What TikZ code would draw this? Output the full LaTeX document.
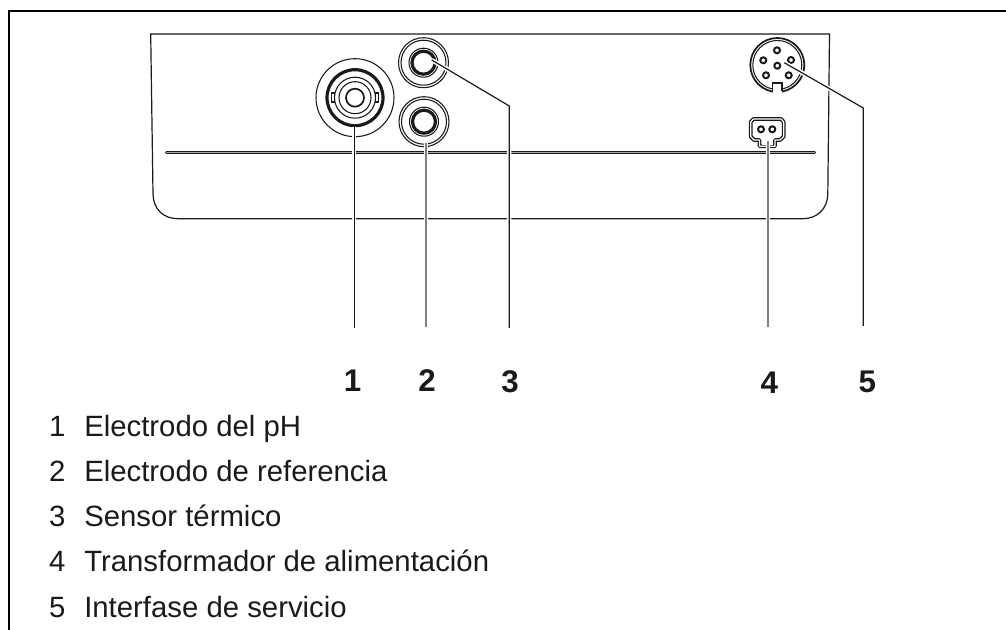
\documentclass[tikz,border=0pt]{standalone}
\usepackage{fontspec}
\setmainfont{Liberation Sans}
\definecolor{ink}{HTML}{1A1A1A}
\definecolor{slotgrey}{HTML}{A8A8A8}
\definecolor{leadgrey}{HTML}{808080}
\tikzset{
  px/.style={x=0.75pt,y=-0.75pt},
  frameline/.style={black,line width=2.2pt},
  body/.style={ink,line width=0.9pt},
  thin ring/.style={ink,line width=0.8pt},
  mid ring/.style={ink,line width=1.3pt},
  thick ring/.style={ink,line width=2.4pt},
  halo/.style={white,line width=3.2pt},
  leader/.style={ink,line width=0.9pt},
  greyleader/.style={leadgrey,line width=1.2pt},
  pin/.style={ink,line width=1.5pt,fill=white},
  callout/.style={font=\fontsize{23.5}{26}\selectfont\bfseries,text=ink,anchor=center,inner sep=0pt},
  itemnum/.style={font=\fontsize{22}{26}\selectfont,text=ink,anchor=base,inner sep=0pt},
  itemtext/.style={font=\fontsize{22}{26}\selectfont,text=ink,anchor=base west,inner sep=0pt},
}
\begin{document}
\begin{tikzpicture}[px]
\useasboundingbox (0,0) rectangle (1006,630);
% page frame
\draw[frameline] (9,630) -- (9,11) -- (1006,11);
% housing
\draw[body] (829.5,34) -- (150.7,34) -- (153,194) .. controls (153.3,209) and (163,218.7) .. (178,218.7) -- (803,218.7) .. controls (817,218.7) and (827.5,209) .. (827.8,194) -- cycle;
% slot
\draw[ink,line width=2.4pt,line cap=round] (166.5,152.3) -- (814.5,152.3);
\draw[slotgrey,line width=1pt,line cap=round] (166.5,152.3) -- (814.5,152.3);
% BNC socket
\draw[thin ring] (355,97.7) circle (39);
\draw[thick ring] (355,97.7) circle (28);
\draw[thin ring] (355,97.7) circle (20.5);
\draw[thin ring] (355,97.7) circle (16);
\draw[mid ring] (355,97.7) circle (9);
\draw[thin ring,fill=white] (331.5,93) rectangle (334.5,102);
\draw[thin ring,fill=white] (375.5,93) rectangle (378.5,102);
% reference socket
\draw[thin ring] (424,121.7) circle (25);
\draw[thin ring] (424,121.7) circle (22.5);
\draw[thin ring] (424,121.7) circle (14.5);
\draw[thick ring] (424,121.7) circle (11.5);
% temperature socket
\draw[thin ring] (423.5,62.7) circle (25);
\draw[thin ring] (423.5,62.7) circle (22.5);
\draw[thin ring] (423.5,62.7) circle (14.5);
\draw[thick ring] (423.5,62.7) circle (11.5);
% service socket
\draw[mid ring] (777.3,65) circle (27);
\draw[thin ring] (777.3,65) circle (24.5);
\fill[white] (773,80) rectangle (782,94);
\draw[mid ring] (772.5,91.5) -- (772.5,82.7) -- (782.3,82.7) -- (782.3,91.5);
\foreach \n/\px/\py in {a/777/50.3,b/763.3/60.3,c/791/60,d/777.3/65.7,e/766/75.3,f/788.7/75.3}{
  \draw[pin] (\px,\py) circle (3);
}
% power socket
\draw[ink,line width=1pt,double=white,double distance=0.9pt,line join=round]
  (753.5,119) -- (781,119) -- (783.7,122) -- (783.7,136.5) -- (780,140) -- (775,140) -- (775,146.2) -- (759.5,146.2) -- (759.5,140) -- (754,140) -- (750.7,136.5) -- (750.7,122) -- cycle;
\fill[white] (762,142) rectangle (772.5,144.8);
\draw[pin] (761,129.3) circle (3);
\draw[pin] (772.3,129.3) circle (3);
% leader ends
\coordinate (p1) at (354.3,127);
\coordinate (e1) at (354.3,328);
\coordinate (p2) at (426,143);
\coordinate (e2) at (426,327);
\coordinate (p3) at (431.7,60);
\coordinate (k3) at (509.3,106);
\coordinate (e3) at (509.3,328);
\coordinate (p4) at (768,141);
\coordinate (e4) at (768,327);
\coordinate (p5) at (784.3,62.7);
\coordinate (k5) at (863.3,108);
\coordinate (e5) at (863.3,326);
% leaders with a white halo where they cross the drawing
\draw[halo] (p1) -- (e1);
\draw[halo] (p2) -- (e2);
\draw[halo] (p3) -- (k3) -- (e3);
\draw[halo] (p4) -- (e4);
\draw[halo] (p5) -- (k5) -- (e5);
\draw[leader] (p1) -- (e1);
\draw[greyleader] (p2) -- (e2);
\draw[leader,line join=miter] (p3) -- (k3) -- (e3);
\draw[greyleader] (p4) -- (e4);
\draw[leader,line join=miter] (p5) -- (k5) -- (e5);
% callouts
\node[callout] (c1) at (352.7,381) {1};
\node[callout] (c2) at (427,381) {2};
\node[callout] (c3) at (510,381.5) {3};
\node[callout] (c4) at (769.3,382.5) {4};
\node[callout] (c5) at (867.3,382) {5};
% legend
\node[itemnum] (n1) at (57.3,436) {1};
\node[itemtext] (t1) at (84,436) {Electrodo del pH};
\node[itemnum] (n2) at (57.3,481.7) {2};
\node[itemtext] (t2) at (84,481.7) {Electrodo de referencia};
\node[itemnum] (n3) at (57.3,526.7) {3};
\node[itemtext] (t3) at (84,526.7) {Sensor térmico};
\node[itemnum] (n4) at (57.3,571.7) {4};
\node[itemtext] (t4) at (84,571.7) {Transformador de alimentación};
\node[itemnum] (n5) at (57.3,617.3) {5};
\node[itemtext] (t5) at (84,617.3) {Interfase de servicio};
\end{tikzpicture}
\end{document}
